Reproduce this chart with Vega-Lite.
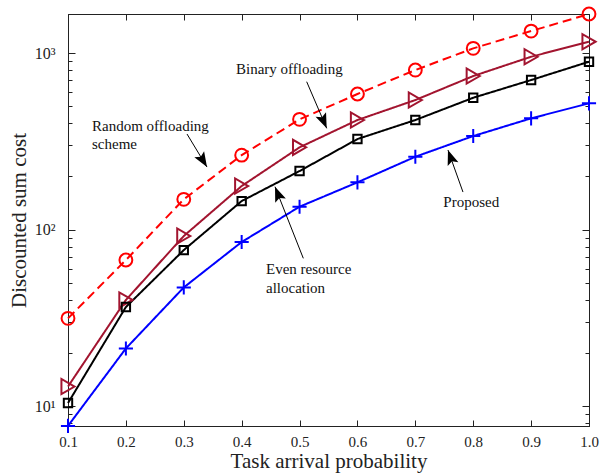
{
  "$schema": "https://vega.github.io/schema/vega-lite/v6.json",
  "width": 521,
  "height": 412,
  "autosize": "none",
  "padding": {"left": 68, "top": 14, "right": 16, "bottom": 50},
  "background": "white",
  "config": {
    "font": "Liberation Serif",
    "view": {"stroke": "#222222", "strokeWidth": 1},
    "axis": {
      "labelFont": "Liberation Serif",
      "titleFont": "Liberation Serif",
      "labelColor": "#222222",
      "titleColor": "#222222",
      "domainColor": "#222222",
      "tickColor": "#222222",
      "grid": false,
      "labelFontSize": 15,
      "titleFontSize": 21,
      "titleFontWeight": "normal"
    }
  },
  "datasets": {
    "curves": [
      {"p": 0.1, "cost": 31.4, "scheme": "Random offloading scheme"},
      {"p": 0.2, "cost": 67.2, "scheme": "Random offloading scheme"},
      {"p": 0.3, "cost": 148.3, "scheme": "Random offloading scheme"},
      {"p": 0.4, "cost": 264, "scheme": "Random offloading scheme"},
      {"p": 0.5, "cost": 421, "scheme": "Random offloading scheme"},
      {"p": 0.6, "cost": 586, "scheme": "Random offloading scheme"},
      {"p": 0.7, "cost": 801, "scheme": "Random offloading scheme"},
      {"p": 0.8, "cost": 1063, "scheme": "Random offloading scheme"},
      {"p": 0.9, "cost": 1332, "scheme": "Random offloading scheme"},
      {"p": 1.0, "cost": 1664, "scheme": "Random offloading scheme"},
      {"p": 0.1, "cost": 12.9, "scheme": "Binary offloading"},
      {"p": 0.2, "cost": 39.9, "scheme": "Binary offloading"},
      {"p": 0.3, "cost": 91.9, "scheme": "Binary offloading"},
      {"p": 0.4, "cost": 176.4, "scheme": "Binary offloading"},
      {"p": 0.5, "cost": 292.2, "scheme": "Binary offloading"},
      {"p": 0.6, "cost": 417.3, "scheme": "Binary offloading"},
      {"p": 0.7, "cost": 541.6, "scheme": "Binary offloading"},
      {"p": 0.8, "cost": 740.8, "scheme": "Binary offloading"},
      {"p": 0.9, "cost": 952.8, "scheme": "Binary offloading"},
      {"p": 1.0, "cost": 1159, "scheme": "Binary offloading"},
      {"p": 0.1, "cost": 10.4, "scheme": "Even resource allocation"},
      {"p": 0.2, "cost": 36.4, "scheme": "Even resource allocation"},
      {"p": 0.3, "cost": 76.5, "scheme": "Even resource allocation"},
      {"p": 0.4, "cost": 145, "scheme": "Even resource allocation"},
      {"p": 0.5, "cost": 214.5, "scheme": "Even resource allocation"},
      {"p": 0.6, "cost": 325.6, "scheme": "Even resource allocation"},
      {"p": 0.7, "cost": 417.3, "scheme": "Even resource allocation"},
      {"p": 0.8, "cost": 557.9, "scheme": "Even resource allocation"},
      {"p": 0.9, "cost": 703.1, "scheme": "Even resource allocation"},
      {"p": 1.0, "cost": 892.9, "scheme": "Even resource allocation"},
      {"p": 0.1, "cost": 7.72, "scheme": "Proposed"},
      {"p": 0.2, "cost": 21.2, "scheme": "Proposed"},
      {"p": 0.3, "cost": 47.0, "scheme": "Proposed"},
      {"p": 0.4, "cost": 85.0, "scheme": "Proposed"},
      {"p": 0.5, "cost": 134.7, "scheme": "Proposed"},
      {"p": 0.6, "cost": 185.1, "scheme": "Proposed"},
      {"p": 0.7, "cost": 258.5, "scheme": "Proposed"},
      {"p": 0.8, "cost": 338.6, "scheme": "Proposed"},
      {"p": 0.9, "cost": 426.6, "scheme": "Proposed"},
      {"p": 1.0, "cost": 518.8, "scheme": "Proposed"}
    ],
    "labels": [
      {"text": "Random offloading", "x": 0.1415, "y": 385.9},
      {"text": "scheme", "x": 0.1415, "y": 305.1},
      {"text": "Binary offloading", "x": 0.3902, "y": 814.7},
      {"text": "Even resource", "x": 0.442, "y": 59.98},
      {"text": "allocation", "x": 0.442, "y": 46.6},
      {"text": "Proposed", "x": 0.7483, "y": 142.6}
    ],
    "arrows": [
      {"name": "binary", "x0": 0.5123, "y0": 687.9, "x1": 0.5469, "y1": 374.5},
      {"name": "random", "x0": 0.3056, "y0": 347.6, "x1": 0.3401, "y1": 226.0},
      {"name": "even", "x0": 0.5065, "y0": 68.7, "x1": 0.4576, "y1": 174.8},
      {"name": "proposed", "x0": 0.7823, "y0": 163.1, "x1": 0.7564, "y1": 282.1}
    ]
  },
  "resolve": {"axis": {"x": "independent", "y": "independent"}},
  "layer": [
    {
      "data": {"name": "curves"},
      "mark": {"type": "line", "strokeWidth": 2},
      "encoding": {
        "x": {
          "field": "p", "type": "quantitative",
          "scale": {"domain": [0.1, 1.0], "nice": false, "zero": false},
          "axis": {
            "orient": "bottom",
            "values": [0.1, 0.2, 0.3, 0.4, 0.5, 0.6, 0.7, 0.8, 0.9, 1.0],
            "format": ".1f",
            "title": "Task arrival probability",
            "tickSize": -6,
            "labelPadding": 14,
            "titlePadding": 1,
            "labelFlush": false
          }
        },
        "y": {
          "field": "cost", "type": "quantitative",
          "scale": {"type": "log", "domain": [7.71, 1664], "nice": false},
          "axis": {
            "orient": "left",
            "values": [8, 9, 10, 20, 30, 40, 50, 60, 70, 80, 90, 100, 200, 300, 400, 500, 600, 700, 800, 900, 1000],
            "labelExpr": "datum.value == 10 ? '10¹' : datum.value == 100 ? '10²' : datum.value == 1000 ? '10³' : ''",
            "tickSize": {"condition": {"test": "datum.value == 10 || datum.value == 100 || datum.value == 1000", "value": -7}, "value": -4},
            "labelPadding": 20,
            "labelFontSize": 16,
            "title": "Discounted sum cost",
            "titlePadding": 5,
            "labelFlush": false
          }
        },
        "color": {
          "field": "scheme", "type": "nominal",
          "scale": {"domain": ["Random offloading scheme", "Binary offloading", "Even resource allocation", "Proposed"], "range": ["#ff0000", "#a2142f", "#000000", "#0000ff"]},
          "legend": null
        },
        "strokeDash": {
          "field": "scheme", "type": "nominal",
          "scale": {"domain": ["Random offloading scheme", "Binary offloading", "Even resource allocation", "Proposed"], "range": [[9, 5], [1, 0], [1, 0], [1, 0]]},
          "legend": null
        }
      }
    },
    {
      "data": {"name": "curves"},
      "mark": {"type": "point", "filled": false, "strokeWidth": 2, "opacity": 1},
      "encoding": {
        "x": {
          "field": "p", "type": "quantitative",
          "axis": {
            "orient": "top",
            "values": [0.1, 0.2, 0.3, 0.4, 0.5, 0.6, 0.7, 0.8, 0.9, 1.0],
            "labels": false,
            "title": null,
            "tickSize": -6
          }
        },
        "y": {
          "field": "cost", "type": "quantitative",
          "axis": {
            "orient": "right",
            "values": [8, 9, 10, 20, 30, 40, 50, 60, 70, 80, 90, 100, 200, 300, 400, 500, 600, 700, 800, 900, 1000],
            "labels": false,
            "title": null,
            "tickSize": {"condition": {"test": "datum.value == 10 || datum.value == 100 || datum.value == 1000", "value": -7}, "value": -4}
          }
        },
        "color": {
          "field": "scheme", "type": "nominal",
          "scale": {"domain": ["Random offloading scheme", "Binary offloading", "Even resource allocation", "Proposed"], "range": ["#ff0000", "#a2142f", "#000000", "#0000ff"]},
          "legend": null
        },
        "shape": {
          "field": "scheme", "type": "nominal",
          "scale": {"domain": ["Random offloading scheme", "Binary offloading", "Even resource allocation", "Proposed"], "range": ["circle", "triangle-right", "square", "M-1,0L1,0M0,-1L0,1"]},
          "legend": null
        },
        "size": {
          "field": "scheme", "type": "nominal",
          "scale": {"type": "ordinal", "domain": ["Random offloading scheme", "Binary offloading", "Even resource allocation", "Proposed"], "range": [165, 230, 70, 200]},
          "legend": null
        }
      }
    },
    {
      "data": {"name": "arrows"},
      "mark": {"type": "rule", "color": "#000000", "strokeWidth": 1},
      "encoding": {
        "x": {"field": "x0", "type": "quantitative", "axis": null},
        "y": {"field": "y0", "type": "quantitative", "axis": null},
        "x2": {"field": "x1"},
        "y2": {"field": "y1"}
      }
    },
    {
      "data": {"name": "arrows"},
      "transform": [{"filter": "datum.name == 'binary'"}],
      "mark": {"type": "point", "shape": "M0,0L0.38,1L0,0.8L-0.38,1Z", "filled": true, "color": "#000000", "opacity": 1, "size": 900, "angle": 156.8},
      "encoding": {
        "x": {"field": "x1", "type": "quantitative", "axis": null},
        "y": {"field": "y1", "type": "quantitative", "axis": null}
      }
    },
    {
      "data": {"name": "arrows"},
      "transform": [{"filter": "datum.name == 'random'"}],
      "mark": {"type": "point", "shape": "M0,0L0.38,1L0,0.8L-0.38,1Z", "filled": true, "color": "#000000", "opacity": 1, "size": 900, "angle": 148.8},
      "encoding": {
        "x": {"field": "x1", "type": "quantitative", "axis": null},
        "y": {"field": "y1", "type": "quantitative", "axis": null}
      }
    },
    {
      "data": {"name": "arrows"},
      "transform": [{"filter": "datum.name == 'even'"}],
      "mark": {"type": "point", "shape": "M0,0L0.38,1L0,0.8L-0.38,1Z", "filled": true, "color": "#000000", "opacity": 1, "size": 900, "angle": 338.4},
      "encoding": {
        "x": {"field": "x1", "type": "quantitative", "axis": null},
        "y": {"field": "y1", "type": "quantitative", "axis": null}
      }
    },
    {
      "data": {"name": "arrows"},
      "transform": [{"filter": "datum.name == 'proposed'"}],
      "mark": {"type": "point", "shape": "M0,0L0.38,1L0,0.8L-0.38,1Z", "filled": true, "color": "#000000", "opacity": 1, "size": 900, "angle": 340.3},
      "encoding": {
        "x": {"field": "x1", "type": "quantitative", "axis": null},
        "y": {"field": "y1", "type": "quantitative", "axis": null}
      }
    },
    {
      "data": {"name": "labels"},
      "mark": {"type": "text", "align": "left", "baseline": "middle", "font": "Liberation Serif", "fontSize": 15, "color": "#111111"},
      "encoding": {
        "x": {"field": "x", "type": "quantitative", "axis": null},
        "y": {"field": "y", "type": "quantitative", "axis": null},
        "text": {"field": "text", "type": "nominal"}
      }
    }
  ]
}
